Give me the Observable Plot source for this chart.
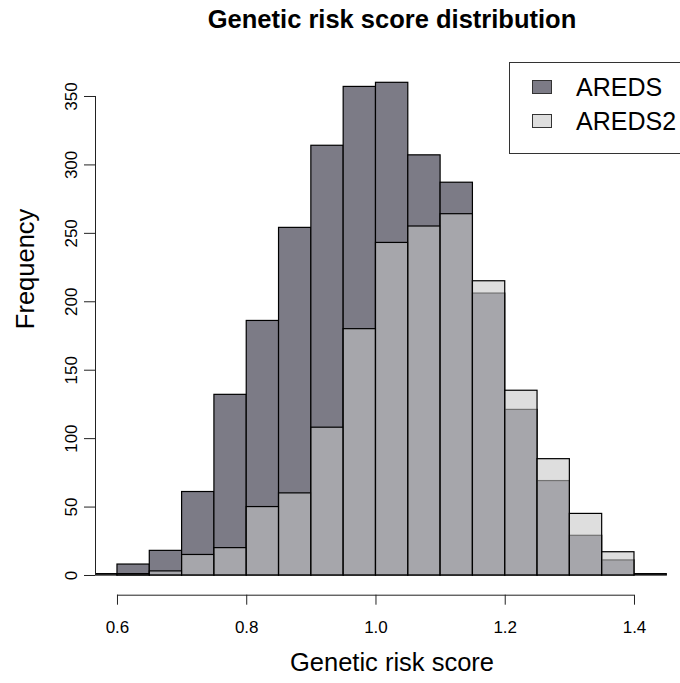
<!DOCTYPE html>
<html>
<head>
<meta charset="utf-8">
<script src="https://cdn.jsdelivr.net/npm/d3@7"></script>
<script src="https://cdn.jsdelivr.net/npm/@observablehq/plot@0.6"></script>
<style>
  html, body { margin: 0; padding: 0; background: #fff; }
  #wrap { position: relative; width: 680px; height: 683px; overflow: hidden; font-family: "Liberation Sans", Arial, Helvetica, sans-serif; }
  #legend { position: absolute; left: 509px; top: 62px; width: 190px; height: 92px; border: 1px solid #333; background: #fff; box-sizing: border-box; }
  .lg-row { position: absolute; left: 0; height: 30px; }
  .lg-sw { position: absolute; left: 22px; width: 20px; height: 14px; border: 1px solid #333; box-sizing: border-box; }
  .lg-tx { position: absolute; left: 66px; font-size: 25px; line-height: 30px; white-space: nowrap; color: #000; }
</style>
</head>
<body>
<div id="wrap"></div>
<script>
// ---- data ----
const binStarts = [0.55, 0.60, 0.65, 0.70, 0.75, 0.80, 0.85, 0.90, 0.95, 1.00, 1.05, 1.10, 1.15, 1.20, 1.25, 1.30, 1.35, 1.40];
const binWidth = 0.05;
const aredsCounts  = [0, 8, 18, 61, 132, 186, 254, 314, 357, 360, 307, 287, 206, 121, 69, 29, 11, 1];
const areds2Counts = [1, 1, 3, 15, 20, 50, 60, 108, 180, 243, 255, 264, 215, 135, 85, 45, 17, 0];
const seriesNames = ["AREDS", "AREDS2"];
const xTicks = [0.6, 0.8, 1.0, 1.2, 1.4];
const yTicks = [0, 50, 100, 150, 200, 250, 300, 350];
const titleText = "Genetic risk score distribution";
const xLabel = "Genetic risk score";
const yLabel = "Frequency";

// ---- styles ----
const aredsFill = "#7c7b86";
const areds2Fill = "#c6c6c6";
const areds2Opacity = 0.575;
const areds2LegendFill = "#dedede";
const font = "Liberation Sans, Arial, Helvetica, sans-serif";
const tickFont = 17;

const xDomain = [0.566, 1.4712];
const yDomain = [-14.4, 374.4];

const rows = binStarts.map((s, i) => ({x1: s, x2: s + binWidth, a: aredsCounts[i], b: areds2Counts[i]}));

const chart = Plot.plot({
  width: 680,
  height: 683,
  marginLeft: 95,
  marginRight: 0,
  marginTop: 62.6,
  marginBottom: 88.3,
  style: {fontFamily: font, fontSize: tickFont + "px", color: "#000", background: "#fff", overflow: "visible"},
  x: {domain: xDomain, axis: null},
  y: {domain: yDomain, axis: null},
  marks: [
    Plot.rect(rows, {x1: "x1", x2: "x2", y1: 0, y2: "a", fill: aredsFill, stroke: "#000", strokeWidth: 1.2, clip: true}),
    Plot.rect(rows, {x1: "x1", x2: "x2", y1: 0, y2: "b", fill: areds2Fill, fillOpacity: areds2Opacity, stroke: "#000", strokeWidth: 1.2, clip: true}),
    // y axis
    Plot.ruleX([xDomain[0]], {y1: yTicks[0], y2: yTicks[yTicks.length - 1], stroke: "#222", strokeWidth: 1}),
    Plot.axisY({ticks: yTicks, anchor: "left", tickSize: 11, tickPadding: 8, tickRotate: -90, fontSize: tickFont, stroke: "#222", label: null}),
    // x axis
    Plot.ruleY([yDomain[0]], {x1: xTicks[0], x2: xTicks[xTicks.length - 1], stroke: "#222", strokeWidth: 1}),
    Plot.axisX({ticks: xTicks, anchor: "bottom", tickSize: 10, tickPadding: 16, tickFormat: d3.format(".1f"), fontSize: tickFont, stroke: "#222", label: null}),
    // labels and title
    Plot.text([xLabel], {frameAnchor: "bottom", lineAnchor: "middle", dx: 4, dy: 68, fontSize: 25.5, fill: "#000"}),
    Plot.text([yLabel], {frameAnchor: "left", lineAnchor: "middle", rotate: -90, dx: -70, fontSize: 25.5, fill: "#000"}),
    Plot.text([titleText], {frameAnchor: "top", lineAnchor: "middle", dx: 4, dy: -43.6, fontSize: 25.5, fontWeight: "bold", fill: "#000"})
  ]
});

const wrap = document.getElementById("wrap");
wrap.appendChild(chart);

// legend
const legend = document.createElement("div");
legend.id = "legend";
const legendFills = [aredsFill, areds2LegendFill];
seriesNames.forEach((name, i) => {
  const row = document.createElement("div");
  row.className = "lg-row";
  row.style.top = (9 + i * 34) + "px";
  const sw = document.createElement("div");
  sw.className = "lg-sw";
  sw.style.top = "8px";
  sw.style.background = legendFills[i];
  const tx = document.createElement("div");
  tx.className = "lg-tx";
  tx.style.top = "0px";
  tx.textContent = name;
  row.appendChild(sw);
  row.appendChild(tx);
  legend.appendChild(row);
});
wrap.appendChild(legend);
</script>
</body>
</html>
